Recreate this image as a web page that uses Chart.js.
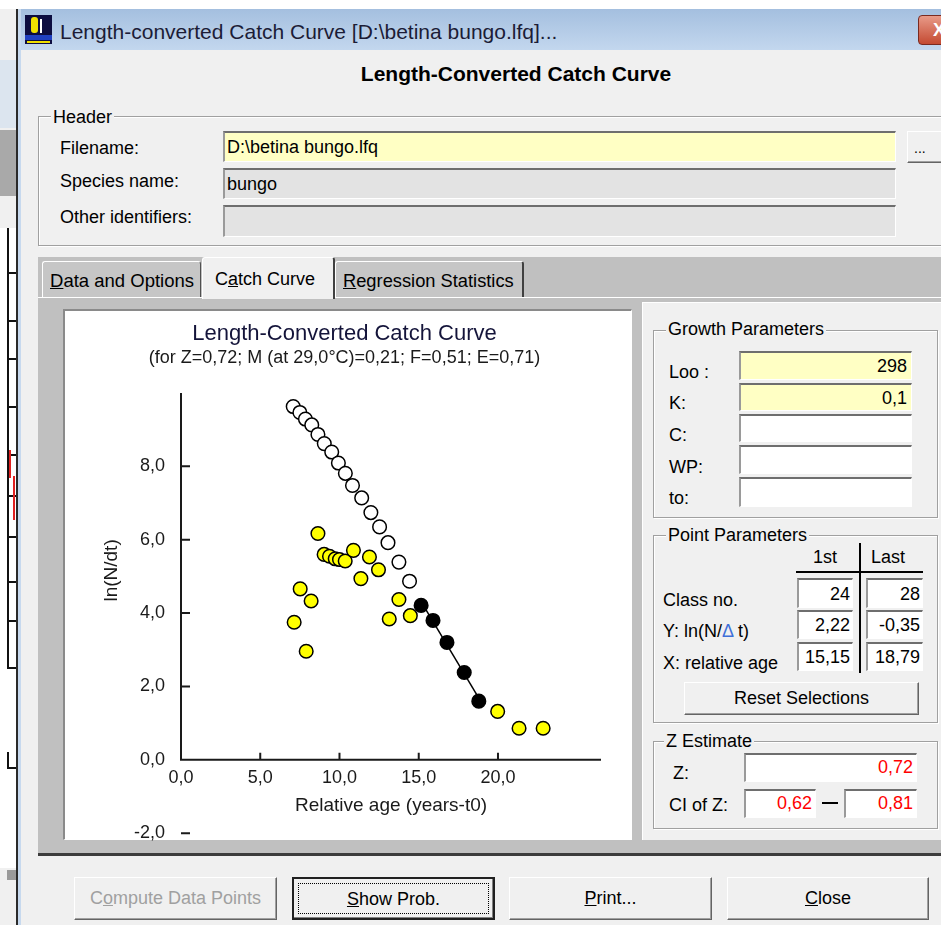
<!DOCTYPE html>
<html><head><meta charset="utf-8">
<script src="https://cdn.jsdelivr.net/npm/chart.js@4.4.1/dist/chart.umd.min.js"></script>
<style>
html,body{margin:0;padding:0;}
body{width:941px;height:925px;position:relative;overflow:hidden;background:#f0f0f0;font-family:"Liberation Sans",Arial,sans-serif;font-size:18px;color:#000;}
.a{position:absolute;box-sizing:border-box;}
.t{position:absolute;white-space:nowrap;line-height:20px;height:20px;}
.fld{position:absolute;box-sizing:border-box;border-top:2px solid #6e6e6e;border-left:2px solid #9a9a9a;border-right:1px solid #fff;border-bottom:1px solid #fff;background:#fff;}
.grp{position:absolute;box-sizing:border-box;border:1px solid #a0a0a0;box-shadow:inset 1px 1px 0 #fff,1px 1px 0 #fff;}
.lbl{position:absolute;background:#f0f0f0;padding:0 2px;white-space:nowrap;line-height:20px;}
.btn{position:absolute;box-sizing:border-box;background:#f0f0f0;border:1px solid;border-color:#fff #646464 #646464 #fff;box-shadow:inset -1px -1px 0 #a0a0a0;text-align:center;}
.num{position:absolute;white-space:nowrap;line-height:20px;text-align:right;}
</style></head>
<body>
<!-- background window on the left -->
<div class="a" style="left:0;top:0;width:941px;height:9px;background:#fff"></div>
<div class="a" style="left:0;top:60px;width:17px;height:68px;background:#dce5ef"></div>
<div class="a" style="left:0;top:130px;width:17px;height:66px;background:#a9a9a9"></div>
<div class="a" style="left:0;top:228px;width:17px;height:640px;background:#fff"></div>
<div class="a" style="left:7px;top:228px;width:2px;height:441px;background:#111"></div>
<div class="a" style="left:7px;top:272px;width:9px;height:2px;background:#111"></div>
<div class="a" style="left:7px;top:320px;width:9px;height:2px;background:#111"></div>
<div class="a" style="left:7px;top:358px;width:9px;height:2px;background:#111"></div>
<div class="a" style="left:7px;top:406px;width:9px;height:2px;background:#111"></div>
<div class="a" style="left:7px;top:454px;width:9px;height:2px;background:#111"></div>
<div class="a" style="left:7px;top:495px;width:9px;height:2px;background:#111"></div>
<div class="a" style="left:7px;top:536px;width:9px;height:2px;background:#111"></div>
<div class="a" style="left:7px;top:581px;width:9px;height:2px;background:#111"></div>
<div class="a" style="left:7px;top:620px;width:9px;height:2px;background:#111"></div>
<div class="a" style="left:7px;top:667px;width:9px;height:2px;background:#111"></div>
<div class="a" style="left:9px;top:450px;width:2px;height:28px;background:#e02020"></div>
<div class="a" style="left:13px;top:476px;width:2px;height:44px;background:#e02020"></div>
<div class="a" style="left:7px;top:752px;width:2px;height:17px;background:#111"></div>
<div class="a" style="left:7px;top:767px;width:9px;height:2px;background:#111"></div>
<div class="a" style="left:7px;top:870px;width:10px;height:10px;background:#9a9a9a"></div>
<div class="a" style="left:16px;top:9px;width:2px;height:916px;background:#2a2a2a"></div>
<div class="a" style="left:18px;top:9px;width:3px;height:916px;background:#c7d9ee"></div>

<!-- title bar -->
<div class="a" style="left:21px;top:9px;width:920px;height:41px;background:linear-gradient(#a4bfdf,#c3d7ee)"></div>
<div class="a" style="left:25px;top:15px;width:27px;height:29px;background:#0d0d40"></div>
<div class="a" style="left:31px;top:17px;width:7px;height:16px;background:#f0e000;border-radius:3px"></div>
<div class="a" style="left:40px;top:19px;width:8px;height:14px;border-left:2px solid #fff"></div>
<div class="a" style="left:25px;top:35px;width:27px;height:5px;background:#2040c0"></div>
<div class="a" style="left:27px;top:41px;width:23px;height:2px;background:#f0e000"></div>
<div class="t" style="left:60px;top:21px;font-size:21px;line-height:22px;height:22px;color:#1c1c36">Length-converted Catch Curve [D:\betina bungo.lfq]...</div>
<div class="a" style="left:918px;top:15px;width:40px;height:30px;background:linear-gradient(#e89a88,#c44a32);border:1px solid #7a2a20;border-radius:4px"></div>
<div class="t" style="left:933px;top:20px;color:#fff;font-weight:bold">X</div>

<!-- dialog heading -->
<div class="t" style="left:316px;width:400px;top:63px;text-align:center;font-weight:bold;font-size:21px;line-height:22px;height:22px">Length-Converted Catch Curve</div>

<!-- Header group -->
<div class="grp" style="left:38px;top:116px;width:920px;height:130px"></div>
<div class="lbl" style="left:51px;top:107px">Header</div>
<div class="t" style="left:60px;top:138px">Filename:</div>
<div class="t" style="left:60px;top:171px">Species name:</div>
<div class="t" style="left:60px;top:207px">Other identifiers:</div>
<div class="fld" style="left:223px;top:131px;width:673px;height:31px;background:#ffffc4"></div>
<div class="t" style="left:227px;top:137px">D:\betina bungo.lfq</div>
<div class="fld" style="left:223px;top:168px;width:673px;height:31px;background:#e3e3e3"></div>
<div class="t" style="left:227px;top:174px">bungo</div>
<div class="fld" style="left:223px;top:205px;width:673px;height:32px;background:#e3e3e3"></div>
<div class="btn" style="left:907px;top:131px;width:50px;height:32px"></div>
<div class="t" style="left:914px;top:138px;font-size:14px">...</div>

<!-- tabs -->
<div class="a" style="left:38px;top:257px;width:903px;height:40px;background:#c0c0c0"></div>
<div class="a" style="left:42px;top:261px;width:159px;height:36px;background:#c6c6c6;border-top:1px solid #fff;border-left:1px solid #fff;border-right:1px solid #505050;border-radius:3px 3px 0 0"></div>
<div class="t" style="left:50px;top:271px;font-size:18.5px"><u>D</u>ata and Options</div>
<div class="a" style="left:335px;top:261px;width:189px;height:36px;background:#c6c6c6;border-top:1px solid #fff;border-left:1px solid #fff;border-right:2px solid #404040;border-radius:3px 3px 0 0"></div>
<div class="t" style="left:343px;top:271px;font-size:18.3px"><u>R</u>egression Statistics</div>
<div class="a" style="left:38px;top:297px;width:903px;height:559px;background:#c0c0c0;border-top:1px solid #fff;border-bottom:3px solid #3c3c3c"></div>
<div class="a" style="left:202px;top:257px;width:133px;height:42px;background:#f0f0f0;border-top:1px solid #fff;border-left:1px solid #fff;border-right:2px solid #404040;border-radius:3px 3px 0 0"></div>
<div class="t" style="left:215px;top:269px">C<u>a</u>tch Curve</div>

<!-- chart box -->
<div class="a" style="left:63px;top:309px;width:569px;height:531px;background:#fff;border-top:2px solid #8a8a8a;border-left:2px solid #8a8a8a;border-right:1px solid #fff;border-bottom:1px solid #fff"></div>
<div class="a" style="left:88px;top:311px;width:544px;height:549px"><canvas id="c"></canvas></div>

<!-- right panel -->
<div class="a" style="left:642px;top:302px;width:299px;height:538px;background:#f0f0f0;border-top:1px solid #fff;border-left:1px solid #fff"></div>
<div class="grp" style="left:653px;top:330px;width:285px;height:188px"></div>
<div class="lbl" style="left:666px;top:319px">Growth Parameters</div>
<div class="t" style="left:669px;top:362px">Loo :</div>
<div class="t" style="left:669px;top:393px">K:</div>
<div class="t" style="left:669px;top:425px">C:</div>
<div class="t" style="left:669px;top:457px">WP:</div>
<div class="t" style="left:669px;top:488px">to:</div>
<div class="fld" style="left:739px;top:351px;width:173px;height:29px;background:#ffffc4"></div>
<div class="num" style="left:739px;width:168px;top:356px">298</div>
<div class="fld" style="left:739px;top:383px;width:173px;height:28px;background:#ffffc4"></div>
<div class="num" style="left:739px;width:168px;top:388px">0,1</div>
<div class="fld" style="left:739px;top:414px;width:173px;height:28px"></div>
<div class="fld" style="left:739px;top:445px;width:173px;height:29px"></div>
<div class="fld" style="left:739px;top:477px;width:173px;height:30px"></div>

<div class="grp" style="left:653px;top:535px;width:285px;height:188px"></div>
<div class="lbl" style="left:666px;top:525px">Point Parameters</div>
<div class="t" style="left:800px;width:50px;top:547px;text-align:center">1st</div>
<div class="t" style="left:863px;width:50px;top:547px;text-align:center">Last</div>
<div class="a" style="left:796px;top:571px;width:127px;height:2px;background:#000"></div>
<div class="a" style="left:859px;top:543px;width:2px;height:130px;background:#000"></div>
<div class="t" style="left:663px;top:590px">Class no.</div>
<div class="t" style="left:663px;top:621px">Y: ln(N/<span style="color:#3f6fd8">&#916;</span> t)</div>
<div class="t" style="left:663px;top:653px">X: relative age</div>
<div class="fld" style="left:797px;top:578px;width:56px;height:30px"></div>
<div class="fld" style="left:866px;top:578px;width:57px;height:30px"></div>
<div class="fld" style="left:797px;top:610px;width:56px;height:29px"></div>
<div class="fld" style="left:866px;top:610px;width:57px;height:29px"></div>
<div class="fld" style="left:797px;top:642px;width:56px;height:29px"></div>
<div class="fld" style="left:866px;top:642px;width:57px;height:29px"></div>
<div class="num" style="left:797px;width:53px;top:584px">24</div>
<div class="num" style="left:866px;width:54px;top:584px">28</div>
<div class="num" style="left:797px;width:53px;top:615px">2,22</div>
<div class="num" style="left:866px;width:54px;top:615px">-0,35</div>
<div class="num" style="left:797px;width:53px;top:647px">15,15</div>
<div class="num" style="left:866px;width:54px;top:647px">18,79</div>
<div class="btn" style="left:684px;top:682px;width:235px;height:33px;line-height:31px">Reset Selections</div>

<div class="grp" style="left:653px;top:741px;width:285px;height:88px"></div>
<div class="lbl" style="left:664px;top:731px">Z Estimate</div>
<div class="t" style="left:673px;top:763px">Z:</div>
<div class="t" style="left:669px;top:795px">CI of Z:</div>
<div class="fld" style="left:744px;top:753px;width:173px;height:29px"></div>
<div class="num" style="left:744px;width:169px;top:757px;color:#ff0000">0,72</div>
<div class="fld" style="left:744px;top:789px;width:72px;height:29px"></div>
<div class="num" style="left:744px;width:68px;top:793px;color:#ff0000">0,62</div>
<div class="a" style="left:822px;top:802px;width:16px;height:2px;background:#000"></div>
<div class="fld" style="left:844px;top:789px;width:73px;height:29px"></div>
<div class="num" style="left:844px;width:69px;top:793px;color:#ff0000">0,81</div>

<!-- bottom buttons -->
<div class="btn" style="left:74px;top:877px;width:203px;height:43px;line-height:41px;color:#a0a0a0">C<u>o</u>mpute Data Points</div>
<div class="btn" style="left:292px;top:877px;width:203px;height:43px;line-height:41px;border:2px solid #202020;box-shadow:inset -1px -1px 0 #808080"><u>S</u>how Prob.</div>
<div class="a" style="left:298px;top:883px;width:191px;height:31px;border:1px dotted #000"></div>
<div class="btn" style="left:509px;top:877px;width:203px;height:43px;line-height:41px"><u>P</u>rint...</div>
<div class="btn" style="left:727px;top:877px;width:202px;height:43px;line-height:41px"><u>C</u>lose</div>

<script>
// ---- data ----
const openX = [7.08, 7.50, 7.85, 8.25, 8.64, 9.04, 9.51, 9.93, 10.37, 10.82, 11.40, 11.98, 12.53, 13.06, 13.75, 14.42];
const openY = [9.63, 9.47, 9.29, 9.13, 8.87, 8.62, 8.39, 8.09, 7.81, 7.48, 7.14, 6.74, 6.35, 5.92, 5.39, 4.87];
const yellowX = [7.14, 7.52, 7.90, 8.21, 8.64, 9.03, 9.37, 9.73, 10.00, 10.36, 10.88, 11.35, 11.89, 12.46, 13.14, 13.75, 14.47, 19.98, 21.33, 22.85];
const yellowY = [3.75, 4.66, 2.96, 4.33, 6.17, 5.60, 5.55, 5.48, 5.46, 5.42, 5.71, 4.94, 5.53, 5.18, 3.84, 4.37, 3.93, 1.32, 0.86, 0.86];
const selX = [15.15, 15.90, 16.78, 17.87, 18.79];
const selY = [4.21, 3.80, 3.20, 2.38, 1.60];
const fitX = [15.15, 18.79];
const fitY = [4.31, 1.68];
const xTicks = [0, 5, 10, 15, 20];
const yTicks = [-2, 0, 2, 4, 6, 8];
const chartTitle = 'Length-Converted Catch Curve';
const chartSubtitle = '(for Z=0,72; M (at 29,0\u00B0C)=0,21; F=0,51; E=0,71)';
const xTitle = 'Relative age (years-t0)';
const yTitle = 'ln(N/dt)';

const pts = (xs, ys) => xs.map((x, i) => ({x: x, y: ys[i]}));
const fmt = v => v.toFixed(1).replace('.', ',');
const FONT = '"Liberation Sans", Arial, sans-serif';
Chart.defaults.font.family = FONT;

const axesPlugin = {
  id: 'fisatAxes',
  beforeDatasetsDraw(chart) {
    const {ctx, chartArea, scales: {x, y}} = chart;
    const x0 = x.getPixelForValue(0), xEnd = chartArea.right;
    const y0 = y.getPixelForValue(0), yTop = y.getPixelForValue(y.max);
    ctx.save();
    ctx.strokeStyle = '#1a1a1a';
    ctx.lineWidth = 2;
    ctx.beginPath();
    ctx.moveTo(x0, yTop); ctx.lineTo(x0, y0); ctx.lineTo(xEnd, y0);
    xTicks.forEach(v => { if (v !== 0) { const p = x.getPixelForValue(v); ctx.moveTo(p, y0); ctx.lineTo(p, y0 - 7); } });
    yTicks.forEach(v => { if (v !== 0) { const p = y.getPixelForValue(v); ctx.moveTo(x0, p); ctx.lineTo(x0 + 9, p); } });
    ctx.stroke();
    ctx.fillStyle = '#1a1a1a';
    ctx.font = '19px ' + FONT;
    ctx.textAlign = 'center';
    ctx.textBaseline = 'middle';
    ctx.translate(chartArea.left - 69, (y.getPixelForValue(0) + y.getPixelForValue(y.max)) / 2 - 6);
    ctx.rotate(-Math.PI / 2);
    ctx.fillText(yTitle, 0, 0);
    ctx.restore();
  }
};

const marker = {pointRadius: 6.8, pointHoverRadius: 6.8, borderWidth: 1.5, borderColor: '#000', pointStyle: 'circle'};

new Chart(document.getElementById('c'), {
  type: 'scatter',
  data: {
    datasets: [
      Object.assign({label: 'selected', data: pts(selX, selY), backgroundColor: '#000', order: 0}, marker),
      {label: 'fit', type: 'line', data: pts(fitX, fitY), borderColor: '#000', borderWidth: 1.5, pointRadius: 0, showLine: true, fill: false, order: 1},
      Object.assign({label: 'observed', data: pts(yellowX, yellowY), backgroundColor: '#ffff00', order: 2}, marker),
      Object.assign({label: 'corrected', data: pts(openX, openY), backgroundColor: '#ffffff', order: 3}, marker)
    ]
  },
  options: {
    responsive: true,
    maintainAspectRatio: false,
    animation: false,
    events: [],
    layout: {padding: {left: 0, right: 31, top: 0, bottom: 0}},
    plugins: {
      legend: {display: false},
      tooltip: {enabled: false},
      title: {display: true, text: chartTitle, color: '#14143a', font: {size: 22, weight: 'normal'}, padding: {top: 10, bottom: 0}},
      subtitle: {display: true, text: chartSubtitle, color: '#1a1a1a', font: {size: 18}, padding: {top: 0, bottom: 24}}
    },
    scales: {
      x: {
        type: 'linear', position: {y: 0}, min: 0, max: 26.5,
        grid: {display: false, drawTicks: false}, border: {display: false},
        afterBuildTicks: s => { s.ticks = xTicks.map(v => ({value: v})); },
        ticks: {padding: 9, color: '#1a1a1a', font: {size: 18, lineHeight: 1.0}, callback: v => fmt(v)},
        title: {display: true, text: xTitle, color: '#1a1a1a', font: {size: 19, lineHeight: 1.0}, padding: {top: 0, bottom: 0}}
      },
      y: {
        type: 'linear', min: -2, max: 10,
        grid: {display: false, drawTicks: false}, border: {display: false},
        afterBuildTicks: s => { s.ticks = yTicks.map(v => ({value: v})); },
        ticks: {padding: 16, color: '#1a1a1a', font: {size: 18}, callback: v => fmt(v)},
        afterFit: s => { s.width = 93; }
      }
    }
  },
  plugins: [axesPlugin]
});
</script>
</body></html>
